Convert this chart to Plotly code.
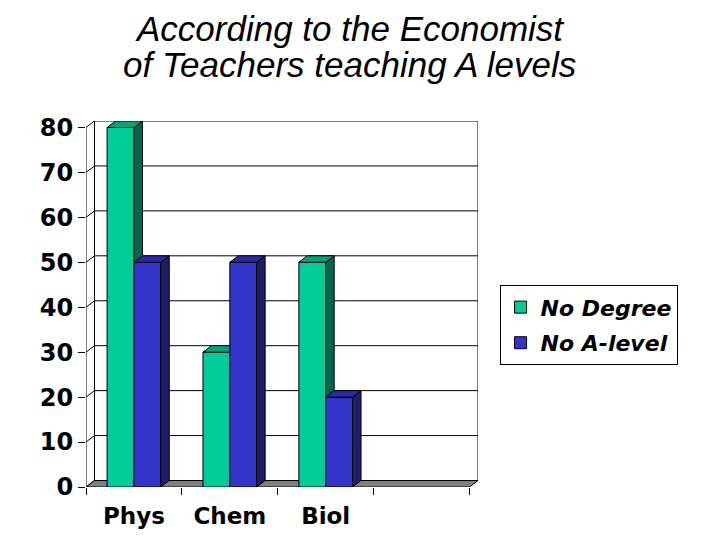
import plotly.graph_objects as go

# values
categories = ["Phys", "Chem", "Biol", ""]
no_degree = [80, 30, 50]
no_alevel = [50, 50, 20]
y_ticks = [0, 10, 20, 30, 40, 50, 60, 70, 80]

GREEN, GREEN_TOP, GREEN_SIDE = "#00CC99", "#00A47B", "#00664D"
BLUE, BLUE_TOP, BLUE_SIDE = "#3333CC", "#2A2AA6", "#1F1F66"
FLOOR = "#808080"

# fake 3D depth (category units / value units)
DX = 8.5 / 96
DY = 6.5 / 4.5
BW = 0.28

n_cat = len(categories)
x_lo, x_hi = -0.5, n_cat - 0.5
y_top = max(y_ticks)

fig = go.Figure()


def poly(xs, ys, fill, xa="x", ya="y"):
    fig.add_trace(go.Scatter(
        x=xs + [xs[0]], y=ys + [ys[0]], mode="lines", fill="toself",
        fillcolor=fill, line=dict(color="black", width=1),
        xaxis=xa, yaxis=ya, showlegend=False, hoverinfo="skip"))


def lines(segs, xa="x", ya="y"):
    xs, ys = [], []
    for (x0, y0), (x1, y1) in segs:
        xs += [x0, x1, None]
        ys += [y0, y1, None]
    fig.add_trace(go.Scatter(
        x=xs, y=ys, mode="lines", line=dict(color="black", width=1),
        xaxis=xa, yaxis=ya, showlegend=False, hoverinfo="skip"))


# walls and floor
poly([x_lo + DX, x_hi + DX, x_hi + DX, x_lo + DX],
     [DY, DY, y_top + DY, y_top + DY], "white")
lines([((x_lo + DX, v + DY), (x_hi + DX, v + DY)) for v in y_ticks[1:-1]])
lines([((x_lo, v), (x_lo + DX, v + DY)) for v in y_ticks]
      + [((x_lo, 0), (x_lo, y_top))])
poly([x_lo, x_hi, x_hi + DX, x_lo + DX], [0, 0, DY, DY], FLOOR)


def series(vals, name, front, top, side, offset, xa, ya):
    xs = list(range(len(vals)))
    fig.add_trace(go.Bar(
        x=xs, y=vals, width=BW, offset=offset, name=name,
        marker=dict(color=front, line=dict(color="black", width=1)),
        xaxis=xa, yaxis=ya, legendgroup=name))
    for x, v in zip(xs, vals):
        x0 = x + offset
        x1 = x0 + BW
        poly([x1, x1 + DX, x1 + DX, x1], [0, DY, v + DY, v], side, xa, ya)
        poly([x0, x0 + DX, x1 + DX, x1], [v, v + DY, v + DY, v], top, xa, ya)


series(no_degree, "No Degree", GREEN, GREEN_TOP, GREEN_SIDE, -BW, "x2", "y2")
series(no_alevel, "No A-level", BLUE, BLUE_TOP, BLUE_SIDE, 0, "x3", "y3")

xr = [x_lo, x_hi + DX]
yr = [0, y_top + DY]
y_font = dict(family="DejaVu Sans", size=24, color="black", weight="bold")
x_font = dict(family="DejaVu Sans", size=23, color="black", weight="bold")

# page body has an 8px margin, so the figure is 704x524 inside the window
fig.update_layout(
    width=704, height=524,
    margin=dict(l=78, r=233.5, t=112.5, b=45, autoexpand=False),
    paper_bgcolor="white", plot_bgcolor="white",
    showlegend=True,
    xaxis=dict(range=xr, tickmode="array",
               tickvals=[x_lo + i for i in range(n_cat + 1)],
               ticks="outside", ticklen=7, tickcolor="black",
               showticklabels=False, showgrid=False, zeroline=False),
    xaxis2=dict(range=xr, overlaying="x", tickmode="array",
                tickvals=list(range(n_cat)), ticktext=categories,
                ticks="", tickfont=x_font, ticklabelstandoff=13,
                showgrid=False, zeroline=False),
    xaxis3=dict(range=xr, overlaying="x", visible=False),
    yaxis=dict(range=yr, tickmode="array", tickvals=y_ticks,
               ticks="outside", ticklen=7, tickcolor="black",
               tickfont=y_font, ticklabelstandoff=0,
               showgrid=False, zeroline=False),
    yaxis2=dict(range=yr, overlaying="y", visible=False),
    yaxis3=dict(range=yr, overlaying="y", visible=False),
    legend=dict(x=1.055, y=0.551, xanchor="left", yanchor="top",
                bordercolor="black", borderwidth=1, bgcolor="white",
                tracegroupgap=4,
                font=dict(family="DejaVu Sans", size=22, color="black",
                          weight="bold", style="italic")),
    hovermode=False,
)

title_font = dict(family="Liberation Sans", size=35, color="black", style="italic")
for text, yp in [("According to the Economist", 1.2524),
                 ("of Teachers teaching A levels", 1.1541)]:
    fig.add_annotation(text=text, xref="paper", yref="paper", x=0.6726, y=yp,
                       xanchor="center", yanchor="middle", showarrow=False,
                       font=title_font)

fig.write_html("out.html")
